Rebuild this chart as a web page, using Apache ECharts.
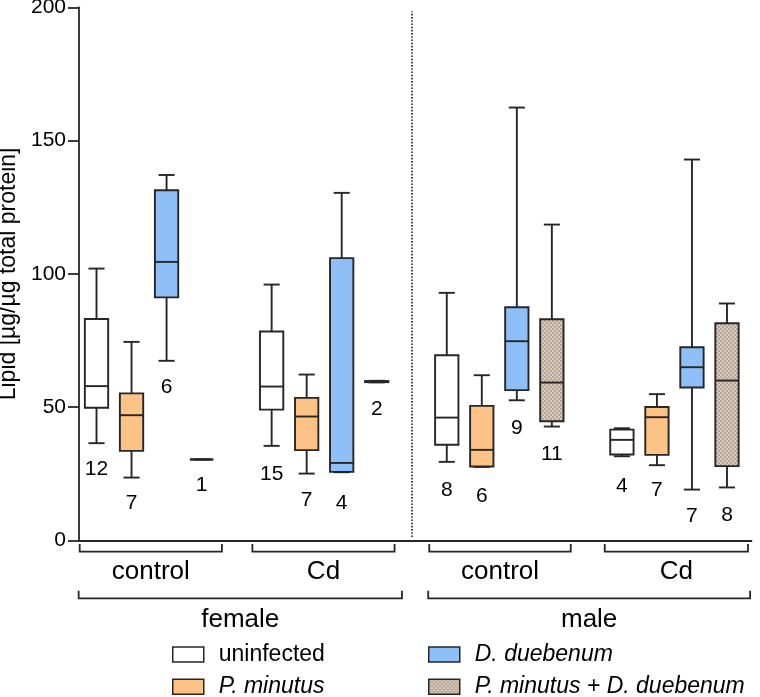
<!DOCTYPE html>
<html><head><meta charset="utf-8">
<script src="https://cdn.jsdelivr.net/npm/echarts@6/dist/echarts.min.js"></script>
<style>html,body{margin:0;padding:0;background:#fff}#c{width:760px;height:697px}</style>
</head><body><div id="c"></div>
<script>
// ---------- data ----------
const groupNames = ['uninfected', 'P. minutus', 'D. duebenum', 'P. minutus + D. duebenum'];
// slot positions on the x value axis (female control, female Cd, male control, male Cd)
const slotsUninfected = [0, 5, 10, 15];
const slotsPminutus   = [1, 6, 11, 16];
const slotsDdueb      = [2, 7, 12, 17];
const slotsCombined   = [3, 8, 13, 18];
// [min, q1, median, q3, max]
const boxUninfected = [
  [36.5, 49.8, 57.9, 83.1, 102],
  [35.5, 49.1, 57.75, 78.4, 96],
  [29.5, 35.9, 46.1, 69.5, 92.9],
  [31.6, 32.25, 37.75, 41.6, 42.1]
];
const boxPminutus = [
  [23.6, 33.6, 47, 55.2, 74.5],
  [25.1, 33.9, 46.5, 53.5, 62.25],
  [27.6, 27.75, 34, 50.5, 62],
  [28.25, 32.1, 46.25, 50.1, 54.9]
];
const boxDdueb = [
  [67.4, 91.2, 104.5, 131.4, 137.1],
  [25.6, 25.75, 29.1, 105.9, 130.4],
  [52.6, 56.4, 74.75, 87.5, 162.4],
  [19.1, 57.4, 65, 72.5, 142.9]
];
const boxCombined = [
  [30.4, 30.4, 30.4, 30.4, 30.4],
  [59.3, 59.4, 59.6, 59.8, 59.9],
  [42.75, 44.75, 59.25, 83, 118.5],
  [19.9, 27.9, 60, 81.5, 88.9]
];
const nSlots  = [0, 1, 2, 3, 5, 6, 7, 8, 10, 11, 12, 13, 15, 16, 17, 18];
const nCounts = [12, 7, 6, 1, 15, 7, 4, 2, 8, 6, 9, 11, 4, 7, 7, 8];
const nLabelY = [26.6, 13.9, 57.5, 20.6, 25, 15, 14.1, 49.1, 18.75, 16.8, 42.3, 32.25, 20.5, 18.75, 9.1, 9.6];
const treatmentLabels = ['control', 'Cd', 'control', 'Cd'];
const treatmentSpans = [[-0.48, 3.58], [4.45, 8.51], [9.5, 13.54], [14.51, 18.6]];
const sexLabels = ['female', 'male'];
const sexSpans = [[-0.51, 8.72], [9.47, 18.66]];
const dividerX = 9;
const yAxisTitle = 'Lipid [µg/µg total protein]';

// ---------- styles ----------
const LINE = '#262626';
const TXT = '#000';
const FONT = 'Liberation Sans, Arial, sans-serif';
const pc = document.createElement('canvas'); pc.width = 4; pc.height = 4;
const g = pc.getContext('2d');
g.fillStyle = '#d9cabb'; g.fillRect(0, 0, 4, 4);
g.fillStyle = '#b4a596'; g.fillRect(0, 0, 2, 2); g.fillRect(2, 2, 2, 2);
const checker = { image: pc, repeat: 'repeat' };
const fills = ['#ffffff', '#fdc285', '#8fbff7', checker];

function toData(slots, boxes) {
  return slots.map((s, i) => [s].concat(boxes[i]));
}
function boxRender(fill) {
  return function (params, api) {
    const x = api.value(0);
    const p = v => api.coord([x, v]);
    const mn = p(api.value(1)), q1 = p(api.value(2)), md = p(api.value(3)),
          q3 = p(api.value(4)), mx = p(api.value(5));
    const cx = mn[0];
    const bw = api.size([0.666, 0])[0];
    const cw = api.size([0.46, 0])[0];
    const st = { stroke: LINE, lineWidth: 1.9, fill: null };
    return { type: 'group', children: [
      { type: 'line', shape: { x1: cx, y1: mx[1], x2: cx, y2: q3[1] }, style: st },
      { type: 'line', shape: { x1: cx, y1: q1[1], x2: cx, y2: mn[1] }, style: st },
      { type: 'line', shape: { x1: cx - cw / 2, y1: mx[1], x2: cx + cw / 2, y2: mx[1] }, style: st },
      { type: 'line', shape: { x1: cx - cw / 2, y1: mn[1], x2: cx + cw / 2, y2: mn[1] }, style: st },
      { type: 'rect', shape: { x: cx - bw / 2, y: q3[1], width: bw, height: q1[1] - q3[1] },
        style: { fill: fill, stroke: LINE, lineWidth: 1.9 } },
      { type: 'line', shape: { x1: cx - bw / 2, y1: md[1], x2: cx + bw / 2, y2: md[1] }, style: st }
    ]};
  };
}
const allSlots = [slotsUninfected, slotsPminutus, slotsDdueb, slotsCombined];
const allBoxes = [boxUninfected, boxPminutus, boxDdueb, boxCombined];
const boxSeries = groupNames.map((name, i) => ({
  name: name,
  type: 'custom',
  renderItem: boxRender(fills[i]),
  itemStyle: { color: fills[i], borderColor: LINE, borderWidth: 1.5 },
  encode: { x: 0, y: [1, 2, 3, 4, 5] },
  data: toData(allSlots[i], allBoxes[i]),
  silent: true
}));

// one legend block per entry: two columns x two rows
const legendLeft = [172, 172, 428, 428];
const legendTop = [643, 675.3, 643, 675.3];
const legends = groupNames.map((name, i) => ({
  left: legendLeft[i], top: legendTop[i], orient: 'vertical', padding: 0,
  itemWidth: 31, itemHeight: 15, selectedMode: false,
  textStyle: { fontSize: 23, color: TXT, fontFamily: FONT, padding: [0, 0, 0, 10],
    fontStyle: i === 0 ? 'normal' : 'italic' },
  data: [{ name: name, icon: 'rect',
    itemStyle: { color: fills[i], borderColor: LINE, borderWidth: 1.5 } }]
}));

const chart = echarts.init(document.getElementById('c'), null, { renderer: 'canvas' });
chart.setOption({
  animation: false,
  textStyle: { fontFamily: FONT },
  grid: { left: 79, right: 8.5, top: 7.3, bottom: 156.5, containLabel: false, outerBoundsMode: 'none' },
  xAxis: {
    type: 'value', min: -0.5, max: 18.7,
    axisLine: { show: true, onZero: false, lineStyle: { color: LINE, width: 1.8 } },
    axisTick: { show: false }, axisLabel: { show: false }, splitLine: { show: false }
  },
  yAxis: {
    type: 'value', min: 0, max: 200, interval: 50,
    name: yAxisTitle, nameLocation: 'middle', nameGap: 56,
    nameTextStyle: { fontSize: 23, color: TXT },
    axisLine: { show: true, onZero: false, lineStyle: { color: LINE, width: 1.8 } },
    axisTick: { show: true, length: 11, lineStyle: { color: LINE, width: 1.8 } },
    axisLabel: { fontSize: 21, color: TXT, margin: 13 },
    splitLine: { show: false }
  },
  legend: legends,
  series: boxSeries.concat([{
    name: 'n',
    type: 'custom',
    silent: true,
    encode: { x: 0, y: 1 },
    data: nSlots.map((s, i) => [s, nLabelY[i], nCounts[i]]),
    renderItem: function (params, api) {
      const c = api.coord([api.value(0), api.value(1)]);
      return { type: 'text', x: c[0], y: c[1],
        style: { text: String(api.value(2)), fill: TXT, fontSize: 21, fontFamily: FONT,
          align: 'center', verticalAlign: 'middle' } };
    },
    markLine: {
      silent: true, symbol: 'none', label: { show: false },
      lineStyle: { type: 'dotted', color: '#222', width: 1.6 },
      data: [[{ coord: [dividerX, 1.3] }, { coord: [dividerX, 198.5] }]]
    }
  }])
});

// bracket annotations under the x axis, positioned with the axis scale
function px(v) { return chart.convertToPixel({ xAxisIndex: 0 }, v); }
const graphics = [];
const bStyle = { stroke: LINE, lineWidth: 1.8, fill: null };
function bracket(span, yLine, yTop, text, yText, fs) {
  const a = px(span[0]), b = px(span[1]);
  graphics.push({ type: 'polyline', shape: { points: [[a, yTop], [a, yLine], [b, yLine], [b, yTop]] }, style: bStyle, silent: true });
  graphics.push({ type: 'text', x: (a + b) / 2, y: yText, silent: true,
    style: { text: text, fontSize: fs, fill: TXT, align: 'center', verticalAlign: 'middle', fontFamily: FONT } });
}
treatmentSpans.forEach((s, i) => bracket(s, 551.7, 544, treatmentLabels[i], 572, 26));
sexSpans.forEach((s, i) => bracket(s, 598.3, 590.7, sexLabels[i], 620, 26));
chart.setOption({ graphic: graphics });
</script>
</body></html>
